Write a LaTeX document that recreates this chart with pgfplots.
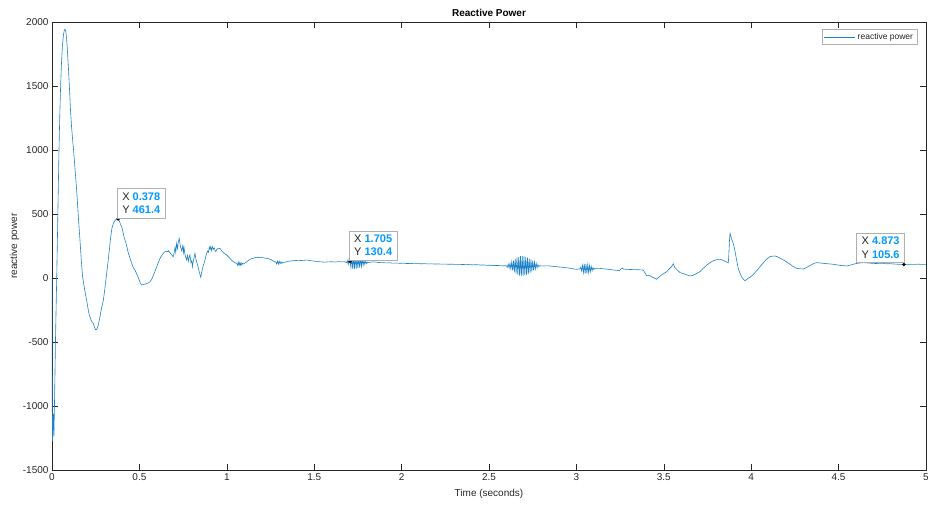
\documentclass[border=0pt]{standalone}
\usepackage{pgfplots}
\pgfplotsset{compat=1.18}
\usepackage{fontspec}
\setmainfont{Liberation Sans}
\definecolor{mblue}{RGB}{30,130,200}
\definecolor{axgray}{RGB}{38,38,38}
\definecolor{tipblue}{RGB}{0,153,255}
\definecolor{tipborder}{RGB}{175,175,175}
\begin{document}
\begin{tikzpicture}
\useasboundingbox (-52pt,-37pt) rectangle (876pt,470pt);
\begin{axis}[
 at={(0pt,0pt)}, anchor=south west,
 scale only axis, width=874pt, height=448pt,
 xmin=0, xmax=5, ymin=-1500, ymax=2000,
 xtick={0,0.5,1,1.5,2,2.5,3,3.5,4,4.5,5},
 ytick={-1500,-1000,-500,0,500,1000,1500,2000},
 tick align=inside, major tick length=6pt,
 axis line style={axgray, line width=0.5pt},
 tick style={axgray, line width=0.5pt},
 ticklabel style={font=\fontsize{10}{12}\selectfont, text=axgray},
 /pgf/number format/assume math mode=true,
 /pgf/number format/1000 sep={},
 every axis title shift=0pt,
 title={\textbf{Reactive Power}},
 title style={at={(axis description cs:0.5,1.02)}, anchor=center, font=\fontsize{10}{12}\selectfont, text=black},
 xlabel={Time (seconds)},
 xlabel style={at={(axis description cs:0.5,-0.054)}, anchor=center, font=\fontsize{10}{12}\selectfont, text=axgray},
 ylabel={reactive power},
 ylabel style={at={(axis description cs:-0.043,0.5)}, anchor=center, font=\fontsize{10}{12}\selectfont, text=axgray},
 legend style={at={(axis description cs:0.9897,0.984)}, anchor=north east, draw=tipborder, font=\fontsize{8.5}{10}\selectfont, inner sep=1.8pt, row sep=0pt},
 legend cell align=left,
 legend image code/.code={\draw[draw=mblue, line width=0.65pt] (0pt,0pt) -- (31pt,0pt);},
]
\addplot[mblue, line width=0.6pt] coordinates {
(0,0) (0.001,-700) (0.002,-1180) (0.003,-1275) (0.004,-1120) (0.005,-1230) (0.006,-1080) (0.007,-1190) (0.008,-1060) (0.009,-1180) (0.010,-1100) (0.011,-1240) (0.012,-1150) (0.014,-1000) (0.017,-750) (0.020,-480) (0.024,-200) (0.027,0) (0.031,300) (0.035,620) (0.040,1000) (0.045,1300) (0.050,1530) (0.055,1700) (0.060,1820) (0.066,1905) (0.071,1938) (0.075,1943) (0.079,1925) (0.084,1860) (0.089,1760) (0.094,1640) (0.100,1480) (0.106,1310) (0.112,1180) (0.118,1080) (0.122,1020) (0.128,920) (0.134,810) (0.141,687) (0.148,540) (0.154,410) (0.160,297) (0.167,150) (0.175,10) (0.182,-50) (0.190,-115) (0.198,-172) (0.205,-230) (0.212,-280) (0.217,-302) (0.224,-330) (0.230,-345) (0.236,-354) (0.242,-380) (0.248,-400) (0.252,-406) (0.258,-395) (0.265,-367) (0.272,-320) (0.280,-260) (0.287,-215) (0.294,-172) (0.300,-110) (0.307,-30) (0.313,39) (0.320,120) (0.328,220) (0.336,323) (0.343,390) (0.351,427) (0.358,445) (0.365,455) (0.372,460) (0.378,461.4) (0.385,445) (0.392,420) (0.399,401) (0.406,360) (0.414,310) (0.423,273) (0.430,235) (0.437,193) (0.445,160) (0.455,120) (0.465,80) (0.475,62) (0.485,30) (0.495,0) (0.505,-40) (0.513,-55) (0.525,-50) (0.540,-45) (0.552,-38) (0.561,-29) (0.570,-10) (0.580,20) (0.590,55) (0.599,88) (0.610,125) (0.620,160) (0.630,180) (0.637,193) (0.645,205) (0.655,210) (0.662,205) (0.666,213) (0.672,200) (0.680,190) (0.688,175) (0.694,166) (0.700,205) (0.704,240) (0.708,200) (0.713,271) (0.718,230) (0.723,285) (0.728,310) (0.733,260) (0.737,235) (0.742,213) (0.748,250) (0.752,200) (0.755,240) (0.760,190) (0.765,160) (0.770,141) (0.775,175) (0.780,130) (0.785,165) (0.789,180) (0.795,120) (0.800,135) (0.803,88) (0.808,130) (0.813,160) (0.818,193) (0.823,150) (0.827,130) (0.830,115) (0.835,90) (0.840,60) (0.846,30) (0.851,5) (0.856,40) (0.861,75) (0.866,100) (0.870,115) (0.875,140) (0.880,170) (0.885,193) (0.890,210) (0.895,200) (0.900,240) (0.904,225) (0.908,245) (0.912,215) (0.918,245) (0.923,225) (0.928,235) (0.933,215) (0.937,206) (0.943,225) (0.949,230) (0.955,228) (0.961,232) (0.968,218) (0.975,205) (0.983,195) (0.991,188) (0.999,180) (1.010,165) (1.020,150) (1.030,135) (1.040,125) (1.048,118) (1.056,115) (1.062,100) (1.066,122) (1.070,98) (1.074,120) (1.078,100) (1.082,118) (1.086,102) (1.090,115) (1.095,109) (1.105,118) (1.115,128) (1.125,138) (1.135,148) (1.145,152) (1.155,156) (1.163,160) (1.171,159) (1.180,162) (1.190,158) (1.200,160) (1.210,157) (1.220,155) (1.228,154) (1.240,150) (1.250,145) (1.260,138) (1.270,130) (1.280,124) (1.285,110) (1.290,132) (1.295,108) (1.300,130) (1.305,112) (1.310,126) (1.315,114) (1.320,124) (1.330,122) (1.340,126) (1.350,130) (1.360,132) (1.370,134) (1.380,135) (1.395,137) (1.410,135) (1.425,137) (1.440,138) (1.455,140) (1.466,139) (1.480,135) (1.500,132) (1.520,128) (1.540,126) (1.560,124) (1.580,126) (1.600,127) (1.620,125) (1.640,128) (1.660,126) (1.675,127) (1.685,120) (1.690,135) (1.695,105) (1.700,148) (1.705,130.4) (1.710,82) (1.715,168) (1.720,72) (1.725,172) (1.730,70) (1.735,170) (1.740,72) (1.745,168) (1.750,75) (1.755,160) (1.760,82) (1.765,155) (1.770,90) (1.775,148) (1.780,98) (1.785,140) (1.790,106) (1.795,132) (1.800,112) (1.805,124) (1.810,120) (1.825,124) (1.840,126) (1.855,124) (1.870,121) (1.890,120) (1.910,118) (1.930,119) (1.950,116) (1.970,117) (1.990,115) (2.010,116) (2.030,113) (2.050,114) (2.070,112) (2.090,113) (2.110,111) (2.130,112) (2.150,110) (2.170,111) (2.190,109) (2.210,110) (2.230,108) (2.250,109) (2.270,107) (2.290,108) (2.310,106) (2.330,107) (2.350,105) (2.372,107) (2.390,104) (2.410,103) (2.430,104) (2.450,101) (2.470,102) (2.490,99) (2.510,100) (2.530,97) (2.550,98) (2.570,95) (2.590,96) (2.600,95) (2.605,85) (2.610,108) (2.615,78) (2.620,115) (2.625,70) (2.630,125) (2.635,60) (2.640,135) (2.645,45) (2.650,150) (2.655,35) (2.660,160) (2.665,25) (2.670,165) (2.675,18) (2.680,170) (2.685,15) (2.690,170) (2.695,15) (2.700,168) (2.705,20) (2.710,165) (2.715,25) (2.720,160) (2.725,30) (2.730,152) (2.735,40) (2.740,145) (2.745,50) (2.750,135) (2.755,60) (2.760,125) (2.765,70) (2.770,115) (2.775,80) (2.780,105) (2.785,88) (2.790,96) (2.800,95) (2.815,94) (2.830,95) (2.849,94) (2.870,90) (2.890,88) (2.910,85) (2.930,82) (2.950,79) (2.970,75) (2.990,70) (3.002,68) (3.012,70) (3.020,70) (3.025,85) (3.030,55) (3.035,100) (3.040,42) (3.045,110) (3.050,35) (3.055,110) (3.060,36) (3.065,105) (3.070,42) (3.075,98) (3.080,50) (3.085,90) (3.090,58) (3.095,82) (3.100,66) (3.105,75) (3.120,76) (3.135,75) (3.150,72) (3.170,70) (3.190,67) (3.210,63) (3.230,60) (3.245,57) (3.250,62) (3.255,72) (3.262,78) (3.270,70) (3.285,68) (3.300,67) (3.320,66) (3.340,65) (3.360,64) (3.375,63) (3.383,62) (3.392,40) (3.402,16) (3.415,22) (3.430,10) (3.445,0) (3.459,-10) (3.470,5) (3.485,22) (3.500,35) (3.517,50) (3.530,70) (3.545,90) (3.550,100) (3.554,112) (3.559,95) (3.564,80) (3.575,65) (3.593,42) (3.610,35) (3.630,25) (3.650,16) (3.665,20) (3.680,30) (3.695,40) (3.707,50) (3.725,75) (3.745,100) (3.765,120) (3.783,135) (3.800,142) (3.810,145) (3.822,146) (3.835,140) (3.850,130) (3.860,124) (3.869,120) (3.872,180) (3.876,300) (3.879,349) (3.883,330) (3.888,305) (3.895,280) (3.902,245) (3.910,190) (3.918,130) (3.926,75) (3.935,40) (3.945,10) (3.955,-10) (3.965,-21) (3.975,-10) (3.985,0) (3.993,5) (4.010,25) (4.030,55) (4.050,88) (4.070,120) (4.090,150) (4.107,167) (4.120,170) (4.136,172) (4.150,165) (4.165,155) (4.184,141) (4.200,128) (4.220,110) (4.240,90) (4.260,75) (4.280,72) (4.300,70) (4.320,85) (4.340,100) (4.360,115) (4.375,120) (4.390,118) (4.410,115) (4.430,112) (4.450,110) (4.470,107) (4.490,103) (4.510,98) (4.530,96) (4.546,94) (4.565,100) (4.585,108) (4.605,114) (4.625,118) (4.642,120) (4.660,118) (4.680,116) (4.700,114) (4.720,113) (4.740,112) (4.760,113) (4.780,111) (4.794,112) (4.810,110) (4.830,108) (4.850,107) (4.873,105.6) (4.890,106) (4.910,107) (4.930,106) (4.950,108) (4.970,107) (4.990,106) (5.000,107)
};
\addlegendentry{\textcolor{axgray}{reactive power}}
\addplot[forget plot, only marks, mark=*, mark size=1.5pt, black,
  nodes near coords={\textcolor{axgray}{X} \textcolor{tipblue}{\textbf{0.378}}\\\textcolor{axgray}{Y} \textcolor{tipblue}{\textbf{461.4}}},
  every node near coord/.append style={anchor=south west, align=left, draw=tipborder, fill=white, font=\fontsize{11}{13.5}\selectfont, inner xsep=5pt, inner ysep=4pt, xshift=-1pt, yshift=1pt}]
  coordinates {(0.378,461.4)};
\addplot[forget plot, only marks, mark=*, mark size=1.5pt, black,
  nodes near coords={\textcolor{axgray}{X} \textcolor{tipblue}{\textbf{1.705}}\\\textcolor{axgray}{Y} \textcolor{tipblue}{\textbf{130.4}}},
  every node near coord/.append style={anchor=south west, align=left, draw=tipborder, fill=white, font=\fontsize{11}{13.5}\selectfont, inner xsep=5pt, inner ysep=4pt, xshift=-1pt, yshift=1pt}]
  coordinates {(1.705,130.4)};
\addplot[forget plot, only marks, mark=*, mark size=1.5pt, black,
  nodes near coords={\textcolor{axgray}{X} \textcolor{tipblue}{\textbf{4.873}}\\\textcolor{axgray}{Y} \textcolor{tipblue}{\textbf{105.6}}},
  every node near coord/.append style={anchor=south east, align=left, draw=tipborder, fill=white, font=\fontsize{11}{13.5}\selectfont, inner xsep=5pt, inner ysep=4pt, xshift=1pt, yshift=2pt}]
  coordinates {(4.873,105.6)};
\end{axis}
\end{tikzpicture}
\end{document}
